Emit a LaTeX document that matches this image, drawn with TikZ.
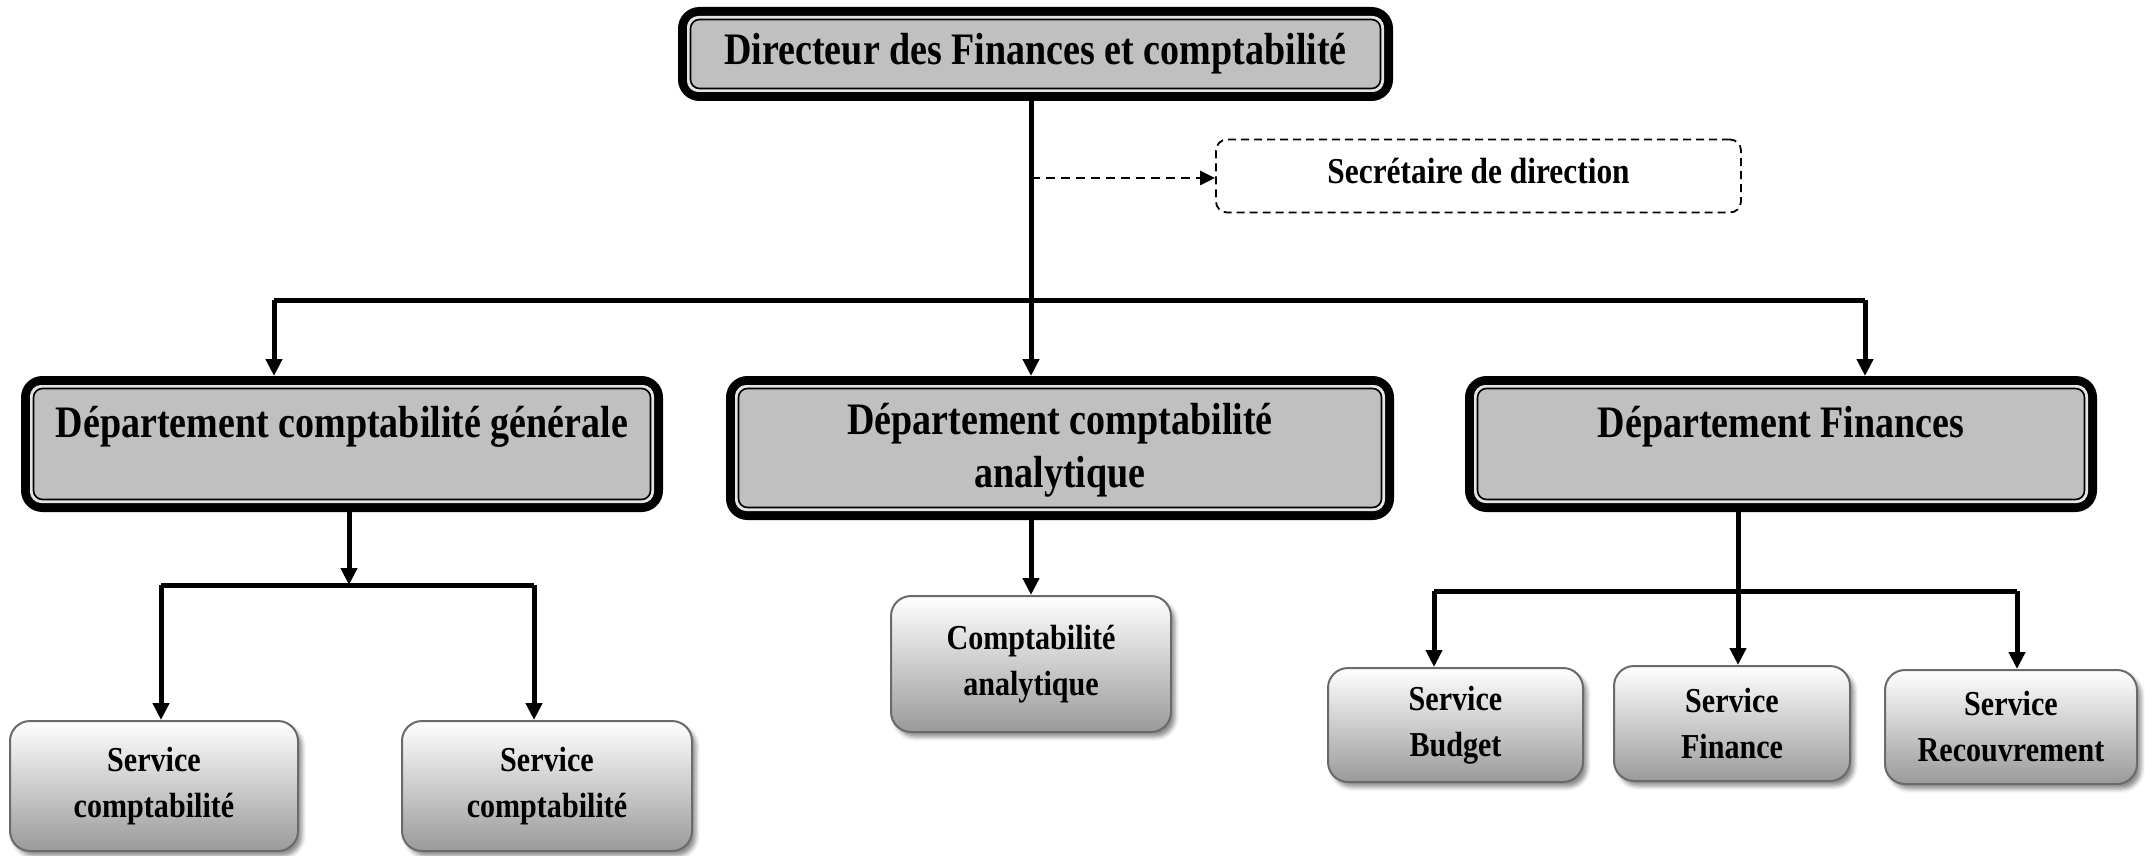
\documentclass[tikz,border=0pt]{standalone}
\usepackage{fontspec}
\newfontfamily\orgfont{Liberation Serif}[FakeStretch=0.845]
\newfontfamily\svcfont{Liberation Serif}[FakeStretch=0.86]
\usetikzlibrary{arrows.meta,shadows.blur,calc}

\definecolor{boxgray}{HTML}{C0C0C0}
\definecolor{ringlight}{HTML}{E4E4E4}
\definecolor{svcedge}{HTML}{6A6A6A}
\definecolor{svcbottom}{HTML}{9A9A9A}

\begin{document}
\begin{tikzpicture}[x=1pt,y=-1pt,
  bigbox/.style={draw=black, line width=9pt, fill=boxgray, rounded corners=17pt, inner sep=0pt},
  ringa/.style={draw=ringlight, line width=3pt, rounded corners=10pt},
  ringb/.style={draw=black, line width=1.6pt, rounded corners=9pt},
  bigtext/.style={font=\orgfont\fontsize{45}{53}\selectfont\bfseries, align=center, inner sep=0pt},
  svcbox/.style={draw=svcedge, line width=2pt, rounded corners=20pt, top color=white, bottom color=svcbottom,
    blur shadow={shadow xshift=4pt, shadow yshift=-5pt, shadow blur radius=4pt, shadow opacity=45},
    align=center, inner sep=0pt, font=\svcfont\fontsize{35}{46}\selectfont\bfseries},
  secbox/.style={draw=black, dash pattern=on 8pt off 5pt, line width=1.8pt, rounded corners=11pt,
    inner sep=0pt, font=\svcfont\fontsize{36.5}{46}\selectfont\bfseries},
  conn/.style={line width=5pt, draw=black},
  arr/.style={conn, -{Triangle[length=17pt,width=16pt]}},
  dasharr/.style={line width=2.6pt, dash pattern=on 9pt off 6pt, -{Triangle[length=15pt,width=14pt]}}
]
\useasboundingbox (0,0) rectangle (2145,856);

% director
\node[bigbox, minimum width=706, minimum height=85] (top) at (1035.5,54) {};
\node[bigtext] (topl) at (1035.5,54) {Directeur des Finances et comptabilité};

% secretary
\node[secbox, minimum width=525, minimum height=73] (sec) at (1478.5,176) {};
\node[secbox, draw=none] (secl) at (1478.5,171) {Secrétaire de direction};

% departments
\node[bigbox, minimum width=633, minimum height=127] (d1) at (342,444) {};
\node[bigtext] (d1l) at (342,427) {Département comptabilité générale};
\node[bigbox, minimum width=659, minimum height=135] (d2) at (1060,448) {};
\node[bigtext] (d2l) at (1060,450) {Département comptabilité\\analytique};
\node[bigbox, minimum width=623, minimum height=127] (d3) at (1781,444) {};
\node[bigtext] (d3l) at (1781,427) {Département Finances};

% inner rings of the framed boxes
\foreach \n in {top,d1,d2,d3}{
  \draw[ringa] ([shift={(10.5,10.5)}]\n.north west) rectangle ([shift={(-10.5,-10.5)}]\n.south east);
  \draw[ringb] ([shift={(12.5,12.5)}]\n.north west) rectangle ([shift={(-12.5,-12.5)}]\n.south east);
}

% services
\node[svcbox, minimum width=288, minimum height=130] (s1) at (154,786) {Service\\comptabilité};
\node[svcbox, minimum width=290, minimum height=130] (s2) at (547,786) {Service\\comptabilité};
\node[svcbox, minimum width=280, minimum height=136] (ca) at (1031,664) {Comptabilité\\analytique};
\node[svcbox, minimum width=255, minimum height=114] (sb) at (1455.5,725) {Service\\Budget};
\node[svcbox, minimum width=236, minimum height=115] (sf) at (1732,723.5) {Service\\Finance};
\node[svcbox, minimum width=252, minimum height=114] (sr) at (2011,727) {Service\\Recouvrement};

% director branches
\coordinate (trunk) at (1031,300);
\coordinate (bl) at (274,300);
\coordinate (br) at (1865,300);
\coordinate (sd) at (1031,178);
\draw[arr] (top.south -| trunk) -- (trunk |- d2.north);
\draw[conn] (bl) -- (br);
\draw[arr] (bl) -- (bl |- d1.north);
\draw[arr] (br) -- (br |- d3.north);
\draw[dasharr] (sd) -- (sec.west |- sd);

% general accounting branches
\coordinate (g0) at (349,585);
\coordinate (gl) at (161,585);
\coordinate (gr) at (534,585);
\draw[arr] (d1.south -| g0) -- (g0);
\draw[conn] (gl) -- (gr);
\draw[arr] (gl) -- (gl |- s1.north);
\draw[arr] (gr) -- (gr |- s2.north);

% analytic accounting branch
\draw[arr] (d2.south -| ca.north) -- (ca.north);

% finance branches
\coordinate (f0) at (1738,591);
\coordinate (fl) at (1434,591);
\coordinate (fr) at (2017,591);
\draw[conn] (fl) -- (fr);
\draw[arr] (d3.south -| f0) -- (f0 |- sf.north);
\draw[arr] (fl) -- (fl |- sb.north);
\draw[arr] (fr) -- (fr |- sr.north);
\end{tikzpicture}
\end{document}
